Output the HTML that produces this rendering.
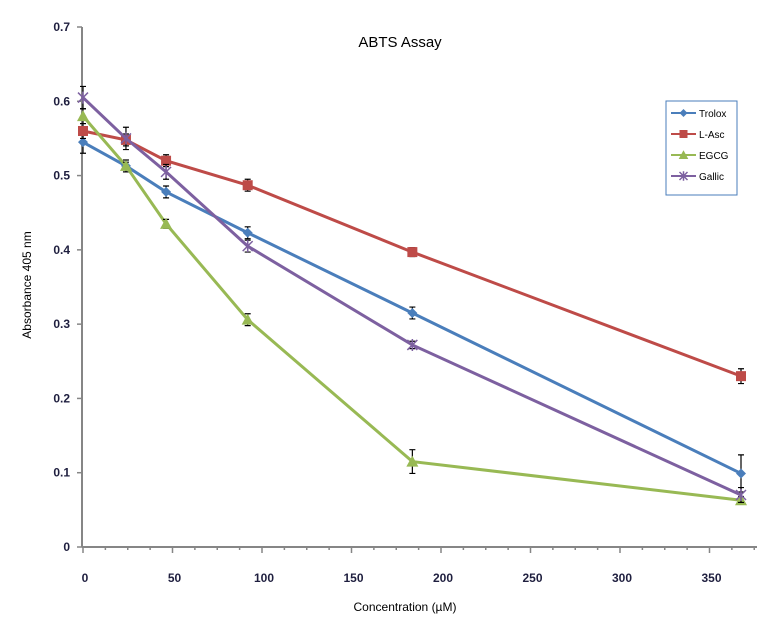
<!DOCTYPE html>
<html><head><meta charset="utf-8"><style>
body{margin:0;background:#fff;}
svg text{font-family:"Liberation Sans",sans-serif;}
</style></head><body>
<svg id="chart" width="769" height="622" viewBox="0 0 769 622" xmlns="http://www.w3.org/2000/svg">
<rect width="769" height="622" fill="#fff"/>
<text x="400" y="47" font-size="15" text-anchor="middle" fill="#000">ABTS Assay</text>
<text transform="translate(31,285) rotate(-90)" font-size="12" text-anchor="middle">Absorbance 405 nm</text>
<text x="405" y="611" font-size="12" text-anchor="middle">Concentration (µM)</text>
<g id="axes"></g>
<g id="series"></g>
<g>
<rect x="666" y="101" width="71" height="94" fill="#fff" stroke="#4a7ebb" stroke-width="1"/>
<g id="legend-items"></g>
</g>
</svg>
<script>
const xValues=[0,24,46.4,92,184,367.6];
const seriesNames=["Trolox","L-Asc","EGCG","Gallic"];
const trolox=[0.545,0.513,0.478,0.423,0.315,0.099];
const lasc=[0.56,0.548,0.52,0.487,0.397,0.23];
const egcg=[0.58,0.513,0.435,0.306,0.115,0.063];
const gallic=[0.605,0.55,0.505,0.405,0.272,0.07];
const troloxErr=[0.015,0.008,0.008,0.008,0.008,0.025];
const lascErr=[0.01,0.008,0.008,0.008,0.006,0.01];
const egcgErr=[0.01,0.005,0.006,0.008,0.016,0.005];
const gallicErr=[0.015,0.015,0.01,0.008,0.005,0.01];
const yTicks=[0,0.1,0.2,0.3,0.4,0.5,0.6,0.7];
const xTicks=[0,50,100,150,200,250,300,350];
const colors=["#4a7ebb","#be4b48","#98b954","#7d60a0"];
const NS="http://www.w3.org/2000/svg";
const X=v=>83+v*1.79, Y=v=>547-v*520/0.7;
function mk(tag,attrs,parent){const e=document.createElementNS(NS,tag);for(const k in attrs)e.setAttribute(k,attrs[k]);parent.appendChild(e);return e;}
const axes=document.getElementById('axes');
let a=mk('line',{x1:82,y1:Y(0.7),x2:82,y2:547,stroke:'#868686','stroke-width':2},axes);


a=mk('line',{x1:82,y1:547,x2:757,y2:547,stroke:'#868686','stroke-width':2},axes);


yTicks.forEach(t=>{
 mk('line',{x1:77,y1:Y(t),x2:82,y2:Y(t),stroke:'#868686','stroke-width':1.5},axes);
 const tx=mk('text',{x:70,y:Y(t)+4,'font-size':12,'font-weight':'bold','text-anchor':'end',fill:'#1f1f3f'},axes);
 tx.textContent=String(t);
 
 
});
for(let v=0;v<=375;v+=12.5){mk('line',{x1:X(v),y1:547,x2:X(v),y2:(v%50===0)?553:550,stroke:'#868686','stroke-width':1.5},axes);}
xTicks.forEach(t=>{
 const tx=mk('text',{x:X(t)+2,y:582,'font-size':12,'font-weight':'bold','text-anchor':'middle',fill:'#1f1f3f'},axes);
 tx.textContent=String(t);
 
 
});
const data=[trolox,lasc,egcg,gallic], errs=[troloxErr,lascErr,egcgErr,gallicErr];
function marker(i,cx,cy,g,s){
 const c=colors[i];
 if(i===0)mk('path',{d:`M${cx} ${cy-5*s}L${cx+5*s} ${cy}L${cx} ${cy+5*s}L${cx-5*s} ${cy}Z`,fill:c},g);
 else if(i===1)mk('rect',{x:cx-5*s,y:cy-5*s,width:10*s,height:10*s,fill:c},g);
 else if(i===2)mk('path',{d:`M${cx} ${cy-6*s}L${cx+6*s} ${cy+5*s}L${cx-6*s} ${cy+5*s}Z`,fill:c},g);
 else{mk('path',{d:`M${cx-5*s} ${cy-5*s}L${cx+5*s} ${cy+5*s}M${cx-5*s} ${cy+5*s}L${cx+5*s} ${cy-5*s}M${cx} ${cy-6*s}L${cx} ${cy+6*s}`,stroke:c,'stroke-width':1.5,fill:'none'},g);}
}
const sg=document.getElementById('series');
data.forEach((d,i)=>{
 const g=mk('g',{},sg);
 
 
 mk('polyline',{points:d.map((v,j)=>X(xValues[j])+','+Y(v)).join(' '),fill:'none',stroke:colors[i],'stroke-width':3},g);
 d.forEach((v,j)=>{
  const x=X(xValues[j]),e=errs[i][j];
  mk('path',{d:`M${x} ${Y(v+e)}L${x} ${Y(v-e)}M${x-3} ${Y(v+e)}L${x+3} ${Y(v+e)}M${x-3} ${Y(v-e)}L${x+3} ${Y(v-e)}`,stroke:'#000','stroke-width':1.2},g);
  marker(i,x,Y(v),g,1);
 });
});
const lg=document.getElementById('legend-items');
seriesNames.forEach((n,i)=>{
 const y=113+i*21;
 const g=mk('g',{},lg);
 
 
 mk('line',{x1:671,y1:y,x2:696,y2:y,stroke:colors[i],'stroke-width':2},g);
 marker(i,683.5,y,g,0.8);
 const t=mk('text',{x:699,y:y+4,'font-size':10,fill:'#000'},g);
 t.textContent=n;
});
</script>
</body></html>
